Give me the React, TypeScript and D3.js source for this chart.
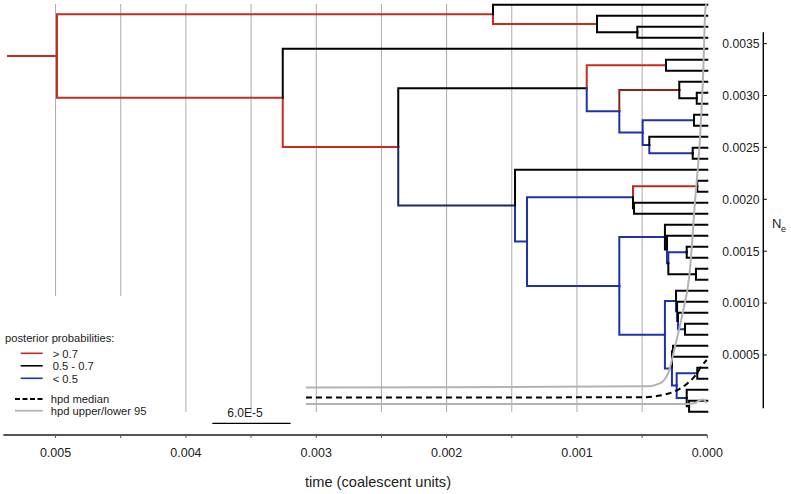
import React from "react";
import * as d3 from "d3";

// ---------- DATA ----------
// internal nodes of the genealogy (time in coalescent units before present)
const cladeNames = ["origin","root","A","B","C","D","E","F","G","H","I","J","K","L","M","N","O","P","Q","R","S","T","U","V","W","X","Y","Z","AA","AB","AC","AD","AE","AF","AG","AH","AI","AJ"];
const cladeParents: (string | null)[] = [null,"origin","root","A","B","root","D","E","F","F","H","I","H","K","K","M","E","O","P","Q","Q","P","T","U","V","W","W","T","Z","AA","AB","AC","Z","AE","AE","AG","AG","AI"];
const cladeTimes = [0.005365,0.004989,0.001644,0.000846,0.000537,0.003257,0.002371,0.000925,0.000317,0.000675,0.000215,0.000081,0.000496,0.000102,0.000445,0.000112,0.001475,0.001383,0.000570,0.000077,0.000562,0.000675,0.000325,0.000309,0.000299,0.000158,0.000087,0.000325,0.000240,0.000232,0.000225,0.000171,0.000271,0.000263,0.000235,0.000077,0.000158,0.000140];
const cladePosteriors: (number | null)[] = [null,0.9,0.9,0.9,0.6,0.9,0.9,0.6,0.9,0.3,0.72,0.6,0.3,0.3,0.3,0.3,0.49,0.3,0.3,0.78,0.6,0.3,0.3,0.6,0.3,0.3,0.6,0.3,0.3,0.3,0.3,0.3,0.3,0.6,0.3,0.3,0.3,0.6];
// tips, top to bottom: parent of each sampled sequence (sampled at time 0)
const tipParents = ["A","B","C","C","D","G","G","I","J","J","L","L","M","N","N","O","R","R","S","S","U","V","X","X","Y","Y","AA","AB","AC","AD","AD","AF","AF","AH","AH","AI","AJ","AJ"];

// hpd of effective population size through time: [time, Ne]
const hpdUpper: [number, number][] = [[0.003079,0.000187],[0.000465,0.000198],[0.000363,0.000227],[0.000299,0.000327],[0.000248,0.000580],[0.000189,0.000905],[0.000137,0.001271],[0.0000944,0.001977],[0.000056,0.002591],[0.0000307,0.003246],[0.0000153,0.003824],[0.000008,0.00388]];
const hpdMedian: [number, number][] = [[0.003079,0.0000906],[0.000516,0.0000925],[0.000363,0.000110],[0.000261,0.000144],[0.000158,0.000221],[0.0000944,0.000298],[0.0000429,0.000394],[0.0000046,0.000452]];
const hpdLower: [number, number][] = [[0.003079,0.0000279],[0.000158,0.0000279],[0.0000944,0.0000376],[0.000056,0.0000665],[0.000033,0.0000713],[0.0000046,0.0000376]];

const xTickLabels = ["0.005","0.004","0.003","0.002","0.001","0.000"];
const neTickLabels = ["0.0005","0.0010","0.0015","0.0020","0.0025","0.0030","0.0035"];
const legendPosterior = [{ label: "> 0.7", p: 0.9 }, { label: "0.5 - 0.7", p: 0.6 }, { label: "< 0.5", p: 0.3 }];
const scaleBar = { from: 0.003797, span: 0.0006, label: "6.0E-5" };
const axisStart = 0.0054;
const neAxisMax = 0.00361;

// ---------- STYLE ----------
const FONT = "'Liberation Sans', Arial, Helvetica, sans-serif";
const RED = "#c62d1f", DARKRED = "#7a2617", BLUE = "#1e32aa", NAVY = "#1d2660";
function postColor(p: number | null) {
  if (p == null) return "#000";
  if (p > 0.7) return d3.interpolateRgb(DARKRED, RED)(Math.min(1, (p - 0.7) / 0.1));
  if (p >= 0.5) return "#000";
  return d3.interpolateRgb(BLUE, NAVY)(Math.max(0, (p - 0.4) / 0.1));
}

// ---------- SCALES ----------
const xScale = d3.scaleLinear().domain([0.005, 0]).range([55.55, 707.3]);
const tipScale = d3.scaleLinear().domain([0, tipParents.length - 1]).range([4.7, 411.7]);
const neScale = d3.scaleLinear().domain([0, 0.0035]).range([406.9, 43.6]);

type Node = { name: string; parent: string | null; t: number; p: number | null; y: number; children: Node[] };

function buildTree() {
  const map = new Map<string, Node>();
  const nodes: Node[] = [];
  cladeNames.forEach((n, i) => {
    const nd: Node = { name: n, parent: cladeParents[i], t: cladeTimes[i], p: cladePosteriors[i], y: NaN, children: [] };
    map.set(n, nd); nodes.push(nd);
  });
  tipParents.forEach((par, i) => {
    const nd: Node = { name: "tip" + i, parent: par, t: 0, p: null, y: tipScale(i), children: [] };
    map.set(nd.name, nd); nodes.push(nd);
  });
  nodes.forEach((n) => { if (n.parent) map.get(n.parent)!.children.push(n); });
  const calcY = (n: Node): number => {
    if (!isNaN(n.y)) return n.y;
    const ys = n.children.map(calcY);
    n.y = d3.mean(ys) as number;
    return n.y;
  };
  nodes.forEach(calcY);
  return { nodes, map };
}

export default function App() {
  const { nodes, map } = buildTree();
  const minorTicks = xScale.ticks(10);
  const gridTicks = minorTicks.filter((t) => t > 0);
  const neTicks = neScale.ticks(7).filter((v) => v > 0);
  const line = d3.line<[number, number]>().x((d) => xScale(d[0])).y((d) => neScale(d[1])).curve(d3.curveMonotoneX);

  const branches = nodes.filter((n) => n.parent).map((n) => {
    const par = map.get(n.parent!)!;
    const d = `M${xScale(par.t)},${par.y}V${n.y}H${xScale(n.t)}`;
    return { d, color: postColor(n.p), key: n.name };
  });

  const axisY = 435;
  const neX = 763.3;

  return (
    <svg width={791} height={494} style={{ position: "absolute", left: 0, top: 0, background: "#fff" }} fontFamily={FONT}>
      <rect x={0} y={0} width={791} height={494} fill="#fff" />
      {/* grid */}
      {gridTicks.map((t) => (
        <line key={"g" + t} x1={xScale(t)} x2={xScale(t)} y1={4} y2={412} stroke="#ababab" strokeWidth={1} />
      ))}
      {/* tree */}
      <g fill="none" strokeWidth={2} strokeLinejoin="miter" strokeLinecap="square">
        {branches.map((b) => (
          <path key={b.key} d={b.d} stroke={b.color} />
        ))}
      </g>
      {/* hpd curves */}
      <path d={line(hpdUpper)!} fill="none" stroke="#b3b3b3" strokeWidth={2} />
      <path d={line(hpdLower)!} fill="none" stroke="#b3b3b3" strokeWidth={2} />
      <path d={line(hpdMedian)!} fill="none" stroke="#000" strokeWidth={2} strokeDasharray="6,4" />

      {/* legend */}
      <rect x={0} y={296} width={172} height={124} fill="#fff" />
      <text x={5} y={342} fontSize={11.2} fill="#222">posterior probabilities:</text>
      {legendPosterior.map((l, i) => (
        <g key={l.label}>
          <line x1={20.7} x2={42.7} y1={353.3 + i * 12.5} y2={353.3 + i * 12.5} stroke={postColor(l.p)} strokeWidth={1.6} />
          <text x={52.7} y={357.5 + i * 12.5} fontSize={11.2} fill="#222">{l.label}</text>
        </g>
      ))}
      <line x1={15} x2={42.7} y1={399} y2={399} stroke="#000" strokeWidth={1.8} strokeDasharray="5,2.5" />
      <text x={50.7} y={403} fontSize={11.2} fill="#222">hpd median</text>
      <line x1={15} x2={42.7} y1={410.7} y2={410.7} stroke="#b3b3b3" strokeWidth={1.8} />
      <text x={50.7} y={415} fontSize={11.2} fill="#222">hpd upper/lower 95</text>

      {/* scale bar */}
      <line x1={xScale(scaleBar.from)} x2={xScale(scaleBar.from - scaleBar.span)} y1={423.3} y2={423.3} stroke="#000" strokeWidth={1.2} />
      <text x={245} y={417} fontSize={12} textAnchor="middle" fill="#222">{scaleBar.label}</text>

      {/* x axis */}
      <line x1={xScale(axisStart)} x2={xScale(0)} y1={axisY} y2={axisY} stroke="#555" strokeWidth={1.8} />
      {minorTicks.map((t) => (
        <line key={"xt" + t} x1={xScale(t)} x2={xScale(t)} y1={axisY} y2={axisY + 3} stroke="#555" strokeWidth={1} />
      ))}
      {xTickLabels.map((l) => (
        <text key={"xl" + l} x={xScale(+l)} y={457} fontSize={12.5} textAnchor="middle" fill="#222">{l}</text>
      ))}
      <text x={378} y={487} fontSize={14.6} textAnchor="middle" fill="#222">time (coalescent units)</text>

      {/* Ne axis */}
      <line x1={neX} x2={neX} y1={neScale(0) + 1.4} y2={neScale(neAxisMax)} stroke="#000" strokeWidth={1.4} />
      {neTicks.map((v, i) => (
        <g key={"n" + v}>
          <line x1={neX} x2={neX + 3.5} y1={neScale(v)} y2={neScale(v)} stroke="#000" strokeWidth={1} />
          <text x={759.5} y={neScale(v) + 4.3} fontSize={12.2} textAnchor="end" fill="#222">{neTickLabels[i]}</text>
        </g>
      ))}
      <text x={772} y={228.3} fontSize={13} fill="#222">N</text>
      <text x={781} y={231.5} fontSize={9} fill="#222">e</text>
    </svg>
  );
}
